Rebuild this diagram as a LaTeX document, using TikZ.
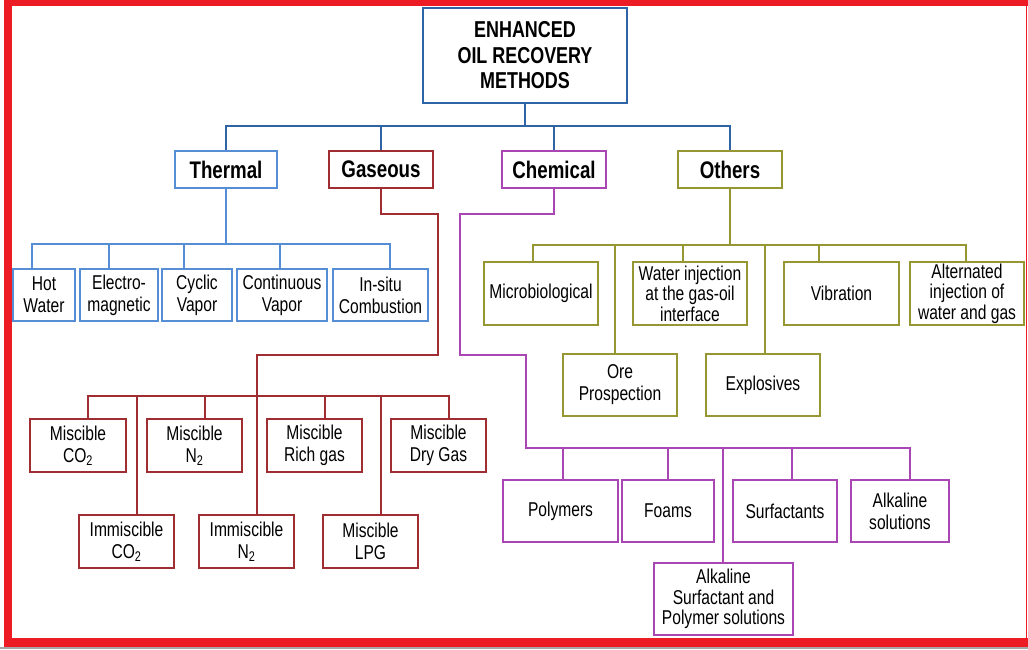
\documentclass[tikz,border=0pt]{standalone}
\usepackage{fontspec}
\setmainfont{Liberation Sans}[FakeStretch=0.78]
\definecolor{tblue}{RGB}{46,100,165}
\definecolor{lblue}{RGB}{85,142,213}
\definecolor{dred}{RGB}{160,45,50}
\definecolor{purp}{RGB}{170,70,180}
\definecolor{olive}{RGB}{150,150,50}
\definecolor{framered}{RGB}{237,28,36}
\newcommand\nf{\fontsize{20}{22}\selectfont}
\newcommand\nft{\fontsize{20}{20.5}\selectfont}
\newcommand\catf{\fontsize{24}{26}\selectfont\bfseries}
\newcommand\ttlf{\fontsize{23}{25.5}\selectfont\bfseries}
\tikzset{
  box/.style={draw=#1, line width=1.8pt, align=center, inner sep=0pt, font=\nf},
  conn/.style={draw=#1, line width=1.8pt},
}
\begin{document}
\begin{tikzpicture}[x=1pt,y=-1pt]
\useasboundingbox (0,0) rectangle (1028,649);
% frame
\fill[framered] (4,0) rectangle (1028,6);
\fill[framered] (4,0) rectangle (11.5,647);
\fill[framered] (4,638) rectangle (1028,647);
\fill[gray!70] (0,647) rectangle (1028,649);
\draw[framered, line width=1pt] (1026.5,0) -- (1026.5,647);

% title and categories
\node[box=tblue, minimum width=204pt, minimum height=95pt, font=\ttlf] (title) at (525,55.5) {ENHANCED\\OIL RECOVERY\\METHODS};
\node[box=lblue, minimum width=102pt, minimum height=37pt, font=\catf] (thermal) at (226,169.5) {Thermal};
\node[box=dred, minimum width=104pt, minimum height=37pt, font=\catf] (gaseous) at (381,169.5) {Gaseous};
\node[box=purp, minimum width=104pt, minimum height=37pt, font=\catf] (chemical) at (554,169.5) {Chemical};
\node[box=olive, minimum width=104pt, minimum height=37pt, font=\catf] (others) at (730,169.5) {Others};

% thermal children
\node[box=lblue, minimum width=62pt, minimum height=52pt] (hot) at (44,295) {Hot\\Water};
\node[box=lblue, minimum width=78pt, minimum height=52pt] (electro) at (119,295) {Electro-\\magnetic};
\node[box=lblue, minimum width=70pt, minimum height=52pt] (cyclic) at (197,295) {Cyclic\\Vapor};
\node[box=lblue, minimum width=90pt, minimum height=52pt] (cont) at (282,295) {Continuous\\Vapor};
\node[box=lblue, minimum width=95pt, minimum height=52pt] (insitu) at (380.5,295) {In-situ\\Combustion};

% gaseous children
\node[box=dred, minimum width=96pt, minimum height=53pt] (mco2) at (78,445.5) {Miscible\\CO\textsubscript{2}};
\node[box=dred, minimum width=95pt, minimum height=53pt] (mn2) at (194.5,445.5) {Miscible\\N\textsubscript{2}};
\node[box=dred, minimum width=95pt, minimum height=53pt] (mrich) at (314.5,445.5) {Miscible\\Rich gas};
\node[box=dred, minimum width=95pt, minimum height=53pt] (mdry) at (438.5,445.5) {Miscible\\Dry Gas};
\node[box=dred, minimum width=95pt, minimum height=53pt] (ico2) at (126.5,541.5) {Immiscible\\CO\textsubscript{2}};
\node[box=dred, minimum width=95pt, minimum height=53pt] (in2) at (246.5,541.5) {Immiscible\\N\textsubscript{2}};
\node[box=dred, minimum width=95pt, minimum height=53pt] (lpg) at (370.5,541.5) {Miscible\\LPG};

% others children
\node[box=olive, minimum width=114pt, minimum height=63pt] (micro) at (541,293.5) {Microbiological};
\node[box=olive, minimum width=114pt, minimum height=63pt, font=\nft] (water) at (690,293.5) {Water injection\\at the gas-oil\\interface};
\node[box=olive, minimum width=115pt, minimum height=63pt] (vib) at (841.5,293.5) {Vibration};
\node[box=olive, minimum width=114pt, minimum height=63pt, font=\nft] (alt) at (967,293.5) {Alternated\\injection of\\water and gas};
\node[box=olive, minimum width=114pt, minimum height=62pt] (ore) at (620,385) {Ore\\Prospection};
\node[box=olive, minimum width=114pt, minimum height=62pt] (expl) at (763,385) {Explosives};

% chemical children
\node[box=purp, minimum width=115pt, minimum height=62pt] (poly) at (560.5,511) {Polymers};
\node[box=purp, minimum width=92pt, minimum height=62pt] (foams) at (668,511) {Foams};
\node[box=purp, minimum width=104pt, minimum height=62pt] (surf) at (785,511) {Surfactants};
\node[box=purp, minimum width=98pt, minimum height=62pt] (alk) at (900,511) {Alkaline\\solutions};
\node[box=purp, minimum width=139pt, minimum height=72pt, font=\nft] (asp) at (723.5,599) {Alkaline\\Surfactant and\\Polymer solutions};

% top level bus
\coordinate (tbus) at (0,126);
\draw[conn=tblue] (title.south) -- (title.south |- tbus);
\draw[conn=tblue] (thermal.north) -- (thermal.north |- tbus) -- (others.north |- tbus) -- (others.north);
\draw[conn=tblue] (gaseous.north) -- (gaseous.north |- tbus);
\draw[conn=tblue] (chemical.north) -- (chemical.north |- tbus);

% thermal subtree
\coordinate (hbus) at (0,244);
\coordinate (d1) at (32,244);
\coordinate (d2) at (109,244);
\coordinate (d3) at (184,244);
\coordinate (d4) at (280,244);
\coordinate (d5) at (390,244);
\draw[conn=lblue] (thermal.south) -- (thermal.south |- hbus);
\draw[conn=lblue] (d1 |- hot.north) -- (d1) -- (d5) -- (d5 |- insitu.north);
\draw[conn=lblue] (d2) -- (d2 |- electro.north);
\draw[conn=lblue] (d3) -- (d3 |- cyclic.north);
\draw[conn=lblue] (d4) -- (d4 |- cont.north);

% gaseous subtree
\coordinate (g1) at (438,214);
\coordinate (g2) at (257,355);
\coordinate (e1) at (88,396);
\coordinate (e2) at (137,396);
\coordinate (e3) at (205,396);
\coordinate (e5) at (325,396);
\coordinate (e6) at (381,396);
\coordinate (e7) at (449,396);
\draw[conn=dred] (gaseous.south) |- (g1) -- (g1 |- g2) -- (g2) -- (g2 |- in2.north);
\draw[conn=dred] (e1 |- mco2.north) -- (e1) -- (e7) -- (e7 |- mdry.north);
\draw[conn=dred] (e2) -- (e2 |- ico2.north);
\draw[conn=dred] (e3) -- (e3 |- mn2.north);
\draw[conn=dred] (e5) -- (e5 |- mrich.north);
\draw[conn=dred] (e6) -- (e6 |- lpg.north);

% chemical subtree
\coordinate (c1) at (460,214);
\coordinate (c2) at (526,355);
\coordinate (c3) at (526,448);
\coordinate (p1) at (563,448);
\coordinate (p2) at (668,448);
\coordinate (p3) at (723,448);
\coordinate (p4) at (792,448);
\coordinate (p5) at (910,448);
\draw[conn=purp] (chemical.south) |- (c1) -- (c1 |- c2) -- (c2) -- (c3) -- (p5) -- (p5 |- alk.north);
\draw[conn=purp] (p1) -- (p1 |- poly.north);
\draw[conn=purp] (p2) -- (p2 |- foams.north);
\draw[conn=purp] (p3) -- (p3 |- asp.north);
\draw[conn=purp] (p4) -- (p4 |- surf.north);

% others subtree
\coordinate (obus) at (0,245);
\coordinate (o1) at (533,245);
\coordinate (o2) at (615,245);
\coordinate (o3) at (683,245);
\coordinate (o4) at (765,245);
\coordinate (o5) at (819,245);
\coordinate (o6) at (966,245);
\draw[conn=olive] (others.south) -- (others.south |- obus);
\draw[conn=olive] (o1 |- micro.north) -- (o1) -- (o6) -- (o6 |- alt.north);
\draw[conn=olive] (o2) -- (o2 |- ore.north);
\draw[conn=olive] (o3) -- (o3 |- water.north);
\draw[conn=olive] (o4) -- (o4 |- expl.north);
\draw[conn=olive] (o5) -- (o5 |- vib.north);
\end{tikzpicture}
\end{document}
